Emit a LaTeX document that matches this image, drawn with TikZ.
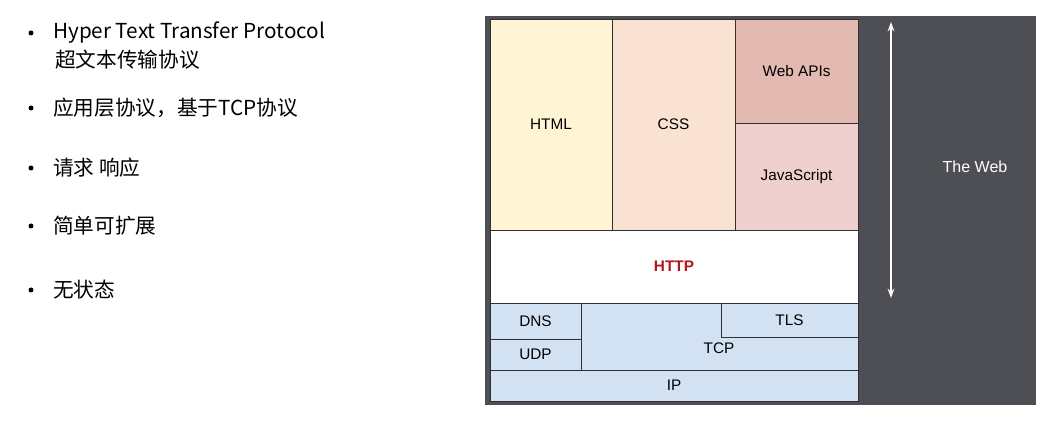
\documentclass[tikz,border=0pt]{standalone}
\usepackage{fontspec}
\setmainfont{Liberation Sans}
\newfontfamily\cjk{Noto Sans CJK SC}
\usetikzlibrary{fit,arrows.meta}
\definecolor{webdark}{HTML}{4E4F54}
\definecolor{htmlfill}{HTML}{FFF4D4}
\definecolor{cssfill}{HTML}{FAE2D2}
\definecolor{apifill}{HTML}{E2BAB2}
\definecolor{jsfill}{HTML}{F0CFCF}
\definecolor{netfill}{HTML}{D3E2F3}
\definecolor{httpred}{HTML}{B0191E}
\definecolor{edge}{HTML}{303030}
\tikzset{
  layer/.style={draw=edge, line width=0.7pt, inner sep=0pt},
  tag/.style={inner sep=0pt, font=\fontsize{11.5}{13}\selectfont},
  item/.style={anchor=west, inner sep=0pt, font=\cjk\fontsize{15.5}{18}\selectfont},
}
\begin{document}
\begin{tikzpicture}[x=0.75pt, y=-0.75pt]
\useasboundingbox[fill=white] (0,0) rectangle (1061,445);

% left list
\node[item] (l1) at (53,33) {Hyper Text Transfer Protocol};
\node[item] (l1b) at (55,60) {超文本传输协议};
\node[item] (l2) at (53,108) {应用层协议，基于TCP协议};
\node[item] (l3) at (53,168) {请求 响应};
\node[item] (l4) at (53,226) {简单可扩展};
\node[item] (l5) at (53,290) {无状态};
\foreach \y in {33,108,168,226,290}
  \fill (31,\y) circle (2.5);

% the web
\node[fill=webdark, inner sep=0pt, fit={(485,16) (1036,405)}] (web) {};
\node[tag, text=white, font=\fontsize{12}{14}\selectfont] (webtxt) at (975,167) {The Web};

\node[layer, fill=htmlfill, fit={(490,19) (612,230)}] (html) {};
\node[layer, fill=cssfill, fit={(612,19) (735,230)}] (css) {};
\node[layer, fill=apifill, fit={(735,19) (858,123)}] (api) {};
\node[layer, fill=jsfill, fit={(735,123) (858,230)}] (js) {};
\node[layer, fill=white, fit={(490,230) (858,303)}] (http) {};
\node[layer, fill=netfill, fit={(581,303) (858,370)}] (tcp) {};
\node[layer, fill=netfill, fit={(721,303) (858,337)}] (tls) {};
\node[layer, fill=netfill, fit={(490,303) (581,339)}] (dns) {};
\node[layer, fill=netfill, fit={(490,339) (581,370)}] (udp) {};
\node[layer, fill=netfill, fit={(490,370) (858,401)}] (ip) {};

\node[tag] (htmltxt) at (html.center) {HTML};
\node[tag] (csstxt) at (css.center) {CSS};
\node[tag] (apitxt) at (api.center) {Web APIs};
\node[tag] (jstxt) at (796.5,177) {JavaScript};
\node[tag, text=httpred, font=\bfseries\fontsize{11.5}{13}\selectfont] (httptxt) at (http.center) {HTTP};
\node[tag] (tlstxt) at (tls.center) {TLS};
\node[tag] (tcptxt) at (719,348) {TCP};
\node[tag] (dnstxt) at (dns.center) {DNS};
\node[tag] (udptxt) at (udp.center) {UDP};
\node[tag] (iptxt) at (ip.center) {IP};

\coordinate (top) at (891,22);
\coordinate (bottom) at (891,298);
\draw[white, line width=1.3pt, {Stealth[length=7pt,width=5pt]}-{Stealth[length=7pt,width=5pt]}] (top) -- (bottom);
\end{tikzpicture}
\end{document}
